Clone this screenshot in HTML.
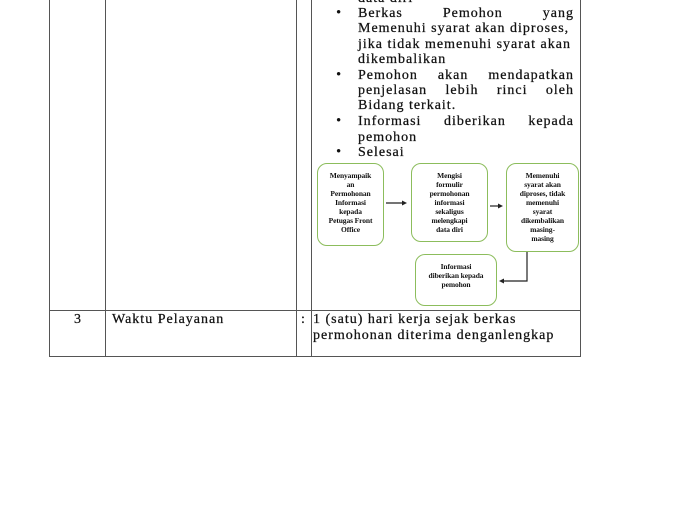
<!DOCTYPE html>
<html><head><meta charset="utf-8"><style>
html,body{margin:0;padding:0;background:#fff;}
body{width:678px;height:509px;position:relative;overflow:hidden;font-family:"Liberation Serif",serif;color:#111;}
.v{position:absolute;width:1px;background:#555;}
.h{position:absolute;height:1px;background:#555;}
.t{position:absolute;font-size:14px;letter-spacing:1px;line-height:15.4px;white-space:nowrap;-webkit-text-stroke:0.25px #111;}
.j{position:absolute;left:358px;width:216px;font-size:14px;letter-spacing:1px;line-height:15.4px;text-align:justify;text-align-last:justify;-webkit-text-stroke:0.25px #111;}
.b{position:absolute;left:336px;font-size:15px;line-height:15.4px;}
.box{position:absolute;border:1.5px solid #8cbd5c;border-radius:10px;box-sizing:border-box;font-size:7.5px;font-weight:bold;line-height:9px;text-align:center;color:#111;letter-spacing:-0.1px;}
</style></head><body>
<div class="v" style="left:49px;top:0;height:357px"></div>
<div class="v" style="left:105px;top:0;height:357px"></div>
<div class="v" style="left:296px;top:0;height:357px"></div>
<div class="v" style="left:311px;top:0;height:357px"></div>
<div class="v" style="left:580px;top:0;height:357px"></div>
<div class="h" style="left:49px;top:310px;width:532px"></div>
<div class="h" style="left:49px;top:356px;width:532px"></div>

<div class="t" style="left:358px;top:-9px">data diri</div>
<div class="b" style="top:6px">•</div>
<div class="j" style="top:6px">Berkas Pemohon yang</div>
<div class="t" style="left:358px;top:21px">Memenuhi syarat akan diproses,</div>
<div class="t" style="left:358px;top:37px">jika tidak memenuhi syarat akan</div>
<div class="t" style="left:358px;top:52px">dikembalikan</div>
<div class="b" style="top:68px">•</div>
<div class="j" style="top:68px">Pemohon akan mendapatkan</div>
<div class="j" style="top:83px">penjelasan lebih rinci oleh</div>
<div class="t" style="left:358px;top:98px">Bidang terkait.</div>
<div class="b" style="top:114px">•</div>
<div class="j" style="top:114px">Informasi diberikan kepada</div>
<div class="t" style="left:358px;top:130px">pemohon</div>
<div class="b" style="top:145px">•</div>
<div class="t" style="left:358px;top:145px">Selesai</div>

<div class="box" style="left:317px;top:163px;width:67px;height:83px;padding-top:7px">Menyampaik<br>an<br>Permohonan<br>Informasi<br>kepada<br>Petugas Front<br>Office</div>
<div class="box" style="left:411px;top:163px;width:77px;height:79px;padding-top:7px">Mengisi<br>formulir<br>permohonan<br>informasi<br>sekaligus<br>melengkapi<br>data diri</div>
<div class="box" style="left:506px;top:163px;width:73px;height:89px;padding-top:7px">Memenuhi<br>syarat akan<br>diproses, tidak<br>memenuhi<br>syarat<br>dikembalikan<br>masing-<br>masing</div>
<div class="box" style="left:415px;top:254px;width:82px;height:52px;padding-top:7px">Informasi<br>diberikan kepada<br>pemohon</div>

<svg style="position:absolute;left:0;top:0" width="678" height="509">
<g stroke="#222" stroke-width="1.2" fill="none">
<line x1="386" y1="203" x2="404" y2="203"/>
<line x1="490" y1="206" x2="500" y2="206"/>
<polyline points="527,252 527,281 503,281"/>
</g>
<g fill="#222">
<polygon points="407,203 402,200.5 402,205.5"/>
<polygon points="503,206 498,203.5 498,208.5"/>
<polygon points="499,281 504,278.5 504,283.5"/>
</g>
</svg>

<div class="t" style="left:74px;top:312px">3</div>
<div class="t" style="left:112px;top:312px">Waktu Pelayanan</div>
<div class="t" style="left:301px;top:312px">:</div>
<div class="t" style="left:313px;top:312px">1 (satu) hari kerja sejak berkas</div>
<div class="t" style="left:313px;top:328px">permohonan diterima denganlengkap</div>
</body></html>
